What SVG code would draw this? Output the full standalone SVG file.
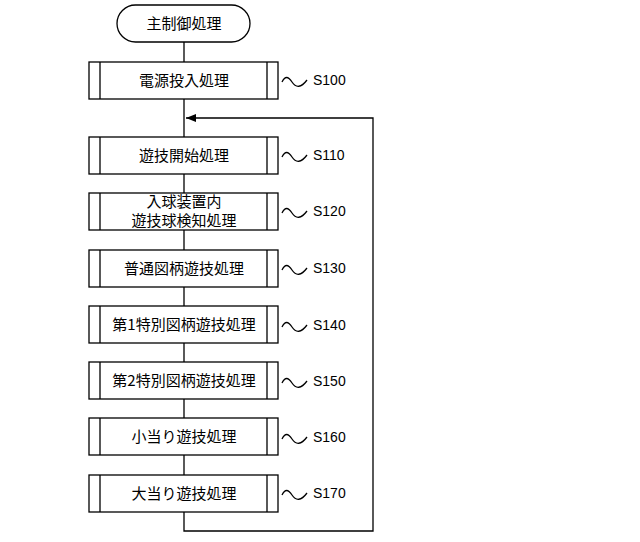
<svg xmlns="http://www.w3.org/2000/svg" width="640" height="542" viewBox="0 0 640 542">
<defs><style>
.b{fill:#fff;stroke:#000;stroke-width:1.3}
.l{fill:none;stroke:#000;stroke-width:1.3}
.t{font-family:"Noto Sans CJK JP",sans-serif;font-size:15px;text-anchor:middle}
.s{font-family:"Liberation Sans",sans-serif;font-size:14px}
</style>
<marker id="a" markerWidth="10" markerHeight="8" refX="10" refY="4" orient="auto" markerUnits="userSpaceOnUse"><path d="M0,0L10,4L0,8z"/></marker>
<g id="w"><path class="l" d="M0,2c3,-6 6,-6 10,0s9,6 15,-2"/></g>
</defs>
<rect width="640" height="542" fill="#fff"/>
<g id="connectors">
<path class="l" d="M184,42V512"/>
<path class="l" d="M184,512V531H373V118H186" marker-end="url(#a)"/>
</g>
<g id="start"><rect class="b" x="117" y="5" width="133" height="37" rx="18.5"/><text class="t" x="184" y="29">主制御処理</text></g>
<g id="S100"><rect class="b" x="89" y="62" width="189" height="37"/><path class="l" d="M100,62v37M267,62v37"/><text class="t" x="184" y="86">電源投入処理</text><use href="#w" x="282" y="80"/><text class="s" x="313" y="85">S100</text></g>
<g id="S110"><rect class="b" x="89" y="137" width="189" height="37"/><path class="l" d="M100,137v37M267,137v37"/><text class="t" x="184" y="161">遊技開始処理</text><use href="#w" x="282" y="155"/><text class="s" x="313" y="160">S110</text></g>
<g id="S120"><rect class="b" x="89" y="193" width="189" height="37"/><path class="l" d="M100,193v37M267,193v37"/><text class="t" x="184" y="207" font-size="13.5">入球装置内</text><text class="t" x="184" y="226" font-size="13.5">遊技球検知処理</text><use href="#w" x="282" y="211"/><text class="s" x="313" y="216">S120</text></g>
<g id="S130"><rect class="b" x="89" y="250" width="189" height="37"/><path class="l" d="M100,250v37M267,250v37"/><text class="t" x="184" y="274">普通図柄遊技処理</text><use href="#w" x="282" y="268"/><text class="s" x="313" y="273">S130</text></g>
<g id="S140"><rect class="b" x="89" y="306" width="189" height="37"/><path class="l" d="M100,306v37M267,306v37"/><text class="t" x="184" y="330">第1特別図柄遊技処理</text><use href="#w" x="282" y="325"/><text class="s" x="313" y="330">S140</text></g>
<g id="S150"><rect class="b" x="89" y="362" width="189" height="37"/><path class="l" d="M100,362v37M267,362v37"/><text class="t" x="184" y="386">第2特別図柄遊技処理</text><use href="#w" x="282" y="381"/><text class="s" x="313" y="386">S150</text></g>
<g id="S160"><rect class="b" x="89" y="418" width="189" height="37"/><path class="l" d="M100,418v37M267,418v37"/><text class="t" x="184" y="442">小当り遊技処理</text><use href="#w" x="282" y="437"/><text class="s" x="313" y="442">S160</text></g>
<g id="S170"><rect class="b" x="89" y="475" width="189" height="37"/><path class="l" d="M100,475v37M267,475v37"/><text class="t" x="184" y="499">大当り遊技処理</text><use href="#w" x="282" y="493"/><text class="s" x="313" y="498">S170</text></g>
</svg>
